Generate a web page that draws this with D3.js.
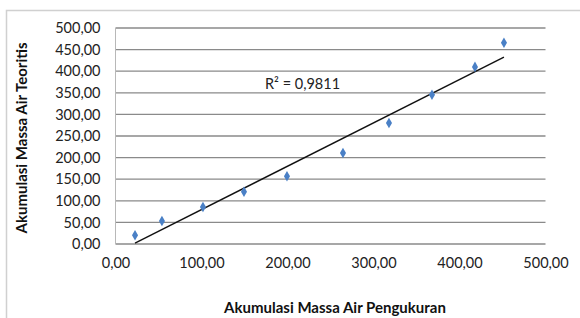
<!DOCTYPE html>
<html><head><meta charset="utf-8">
<script src="https://cdn.jsdelivr.net/npm/d3@7"></script>
<style>body{margin:0;background:#fff;}svg{display:block;}</style>
</head><body>
<svg id="c" width="580" height="318"></svg>
<script>
const measured = [22.7, 54, 101.7, 149.4, 199.4, 264.5, 318, 368, 418, 451.7];
const theoretical = [20, 53, 85.6, 121, 157, 210.6, 280, 345.6, 410, 466];
const xTicks = [0, 100, 200, 300, 400, 500];
const yTicks = [0, 50, 100, 150, 200, 250, 300, 350, 400, 450, 500];
const r2Label = "R² = 0,9811";
const xTitle = "Akumulasi Massa Air Pengukuran";
const yTitle = "Akumulasi Massa Air Teoritis";

const svg = d3.select("#c");
const fmt = v => d3.format(".2f")(v).replace(".", ",");
const font = "Lato, 'Open Sans', sans-serif";

svg.append("rect").attr("x", 6.5).attr("y", 10.5).attr("width", 600).attr("height", 320)
  .attr("fill", "#fff").attr("stroke", "#d0d0d0").attr("stroke-width", 1.5);

const x = d3.scaleLinear().domain([0, 500]).range([115.5, 545.5]);
const y = d3.scaleLinear().domain([0, 500]).range([244, 28]);

svg.append("g").selectAll("line").data(yTicks).join("line")
  .attr("x1", x(0)).attr("x2", x(500))
  .attr("y1", d => y(d)).attr("y2", d => y(d))
  .attr("stroke", "#8a8a8a").attr("stroke-width", 1.3);
svg.append("line").attr("x1", x(0)).attr("x2", x(0)).attr("y1", y(500)).attr("y2", y(0))
  .attr("stroke", "#b8b8b8").attr("stroke-width", 1);

const yAxis = d3.axisLeft(y).tickValues(yTicks).tickFormat(fmt).tickSize(0).tickPadding(15);
const ya = svg.append("g").attr("transform", `translate(${x(0)},0)`).call(yAxis);
ya.select(".domain").remove();
ya.selectAll("text").attr("font-family", font).attr("font-size", 14.5).attr("fill", "#222");

const xAxis = d3.axisBottom(x).tickValues(xTicks).tickFormat(fmt).tickSize(0).tickPadding(14);
const xa = svg.append("g").attr("transform", `translate(0,${y(0)})`).call(xAxis);
xa.select(".domain").remove();
xa.selectAll("text").attr("font-family", font).attr("font-size", 14.5).attr("fill", "#222");

const n = measured.length;
const mx = d3.mean(measured), my = d3.mean(theoretical);
let sxy = 0, sxx = 0;
for (let i = 0; i < n; i++) { sxy += (measured[i]-mx)*(theoretical[i]-my); sxx += (measured[i]-mx)**2; }
const slope = sxy / sxx, icpt = my - slope * mx;
let x0 = d3.min(measured), x1 = d3.max(measured);
if (slope * x0 + icpt < 0) x0 = -icpt / slope;
svg.append("line")
  .attr("x1", x(x0)).attr("y1", y(slope*x0+icpt))
  .attr("x2", x(x1)).attr("y2", y(slope*x1+icpt))
  .attr("stroke", "#111").attr("stroke-width", 1.4);

const sym = d3.symbol().type(d3.symbolDiamond).size(32);
svg.append("g").selectAll("path").data(measured).join("path")
  .attr("d", sym)
  .attr("transform", (d, i) => `translate(${x(d)},${y(theoretical[i])})`)
  .attr("fill", "#4a80c6");

svg.append("text").attr("x", 265).attr("y", 89).attr("font-family", font).attr("font-size", 14.5)
  .attr("fill", "#222").text(r2Label);

svg.append("text").attr("x", 335).attr("y", 313).attr("text-anchor", "middle")
  .attr("font-family", font).attr("font-size", 15).attr("font-weight", "bold").attr("fill", "#111").text(xTitle);
svg.append("text").attr("transform", "translate(27,138) rotate(-90)").attr("text-anchor", "middle")
  .attr("font-family", font).attr("font-size", 15).attr("font-weight", "bold").attr("fill", "#111").text(yTitle);
</script>
</body></html>
